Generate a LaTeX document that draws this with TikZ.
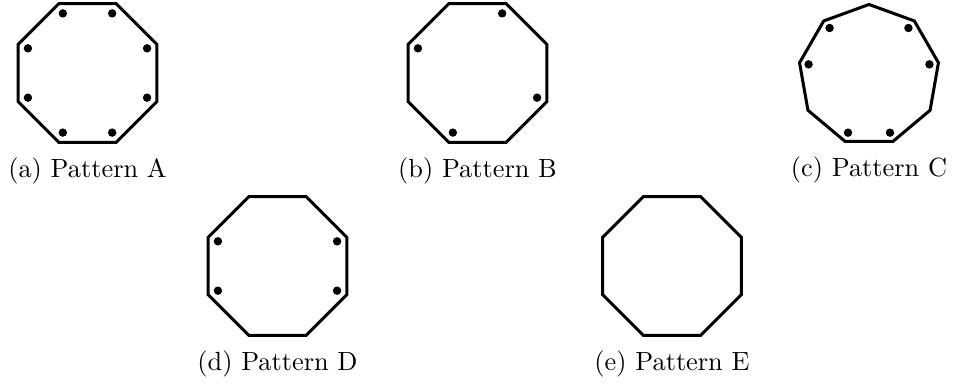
\documentclass[tikz,border=0pt]{standalone}
\usetikzlibrary{positioning,calc,shapes.geometric}

\begin{document}
\begin{tikzpicture}[x=0.38pt,y=-0.38pt,
    ring/.style={draw,regular polygon,regular polygon sides=#1,line width=1.15pt,inner sep=0pt,outer sep=0pt,minimum size=57pt},
    cap/.style={below=2.4pt of #1}]
    \useasboundingbox (0,0) rectangle (953,388);
    % top row
    \node[ring=8] (a) at (87.5,73) {};
    \node[ring=8] (b) at (477.5,73) {};
    \node[ring=9,minimum size=53.6pt] (c) at (869,75) {};
    \foreach \k in {1,...,8} \fill ($(a.center)!0.86!(a.corner \k)$) circle[radius=1.6pt];
    \foreach \k in {1,3,5,7} \fill ($(b.center)!0.86!(b.corner \k)$) circle[radius=1.6pt];
    \foreach \k in {2,3,5,6,8,9} \fill ($(c.center)!0.87!(c.corner \k)$) circle[radius=1.6pt];
    \node[cap=a] (la) {(a) Pattern A};
    \node[cap=b] (lb) {(b) Pattern B};
    \node[cap=c] (lc) {(c) Pattern C};
    % bottom row
    \node[ring=8] (d) at (277.5,266) {};
    \node[ring=8] (e) at (672,266) {};
    \foreach \k in {3,4,7,8} \fill ($(d.center)!0.86!(d.corner \k)$) circle[radius=1.6pt];
    \node[cap=d] (ld) {(d) Pattern D};
    \node[cap=e] (le) {(e) Pattern E};
  \end{tikzpicture}
\end{document}
